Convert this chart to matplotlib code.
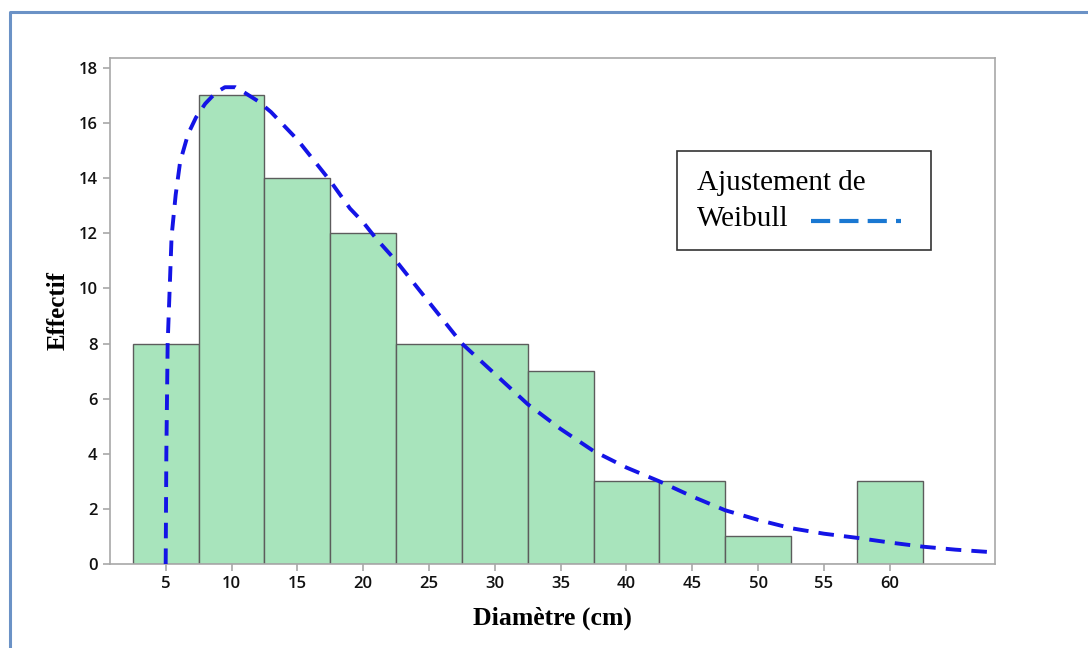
import numpy as np
import matplotlib.pyplot as plt
from matplotlib.lines import Line2D
from matplotlib.patches import Rectangle

# histogram classes (centres) and counts
centres = [5, 10, 15, 20, 25, 30, 35, 40, 45, 50, 55, 60]
counts = [8, 17, 14, 12, 8, 8, 7, 3, 3, 1, 0, 3]
xticks = [5, 10, 15, 20, 25, 30, 35, 40, 45, 50, 55, 60]
yticks = [0, 2, 4, 6, 8, 10, 12, 14, 16, 18]

# Weibull fit curve
fit_x = [5.0, 5.05, 5.15, 5.45, 5.76, 6.1, 6.7, 7.3, 8.0, 8.8, 9.5, 10.3, 11.0,
         12.0, 13.0, 14.0, 15.0, 16.0, 17.5, 19.0, 20.0, 21.0, 22.5, 25.0, 27.5,
         30.0, 32.5, 35.0, 37.5, 40.0, 42.5, 45.0, 47.5, 50.0, 52.5, 55.0, 57.5,
         60.0, 62.5, 65.0, 68.0]
fit_y = [0.0, 4.0, 8.0, 11.9, 13.4, 14.6, 15.6, 16.2, 16.7, 17.1, 17.3, 17.3, 17.1,
         16.8, 16.4, 15.9, 15.4, 14.8, 13.9, 12.9, 12.4, 11.8, 11.0, 9.5, 8.0,
         6.9, 5.8, 4.9, 4.1, 3.5, 3.0, 2.45, 1.95, 1.6, 1.3, 1.1, 0.95,
         0.78, 0.63, 0.52, 0.42]

fig = plt.figure(figsize=(10.88, 6.48), dpi=100)
ax = fig.add_axes([110/1088, 1-564/648, 885/1088, 506/648])

ax.bar(centres, counts, width=5, color='#a8e4bc', edgecolor='#5c5c5c', linewidth=1.0, zorder=2)
ax.plot(fit_x, fit_y, color='#1414e6', linestyle=(0, (4, 2.6)), linewidth=2.8, zorder=3)

ax.set_xlim(0.77, 68.0)
ax.set_ylim(0, 18.36)
ax.set_xticks(xticks)
ax.set_yticks(yticks)
for s in ax.spines.values():
    s.set_color('#a8a8a8')
    s.set_linewidth(1.2)
ax.tick_params(colors='#a8a8a8', length=5, width=1.2, labelcolor='#111111', pad=4)
for lab in ax.get_xticklabels() + ax.get_yticklabels():
    lab.set_fontfamily('Open Sans')
    lab.set_fontweight('semibold')
    lab.set_fontsize(12)

ax.set_xlabel('Diamètre (cm)', fontfamily='Liberation Serif', fontweight='bold',
              fontsize=18.5, labelpad=10)
ax.set_ylabel('Effectif', fontfamily='Liberation Serif', fontweight='bold',
              fontsize=18, labelpad=6)

# legend box drawn by hand
fig.patches.append(Rectangle((677/1088, 1-250/648), 254/1088, 99/648,
                             transform=fig.transFigure, fill=False,
                             edgecolor='#333333', linewidth=1.2))
fig.text(697/1088, 1-183/648, 'Ajustement de', fontfamily='Liberation Serif',
         fontsize=21, va='center', ha='left')
fig.text(697/1088, 1-219/648, 'Weibull', fontfamily='Liberation Serif',
         fontsize=21, va='center', ha='left')
fig.lines.append(Line2D([811/1088, 901/1088], [1-221/648, 1-221/648],
                        transform=fig.transFigure, color='#1a78d2',
                        linewidth=3, linestyle=(0, (4.6, 2.2))))

# page frame
fig.lines.append(Line2D([9.5/1088, 9.5/1088, 1.0], [0.0, 1-11.5/648, 1-11.5/648],
                        transform=fig.transFigure, color='#6b92c6', linewidth=2.2))

fig.savefig('out.png', dpi=100)
